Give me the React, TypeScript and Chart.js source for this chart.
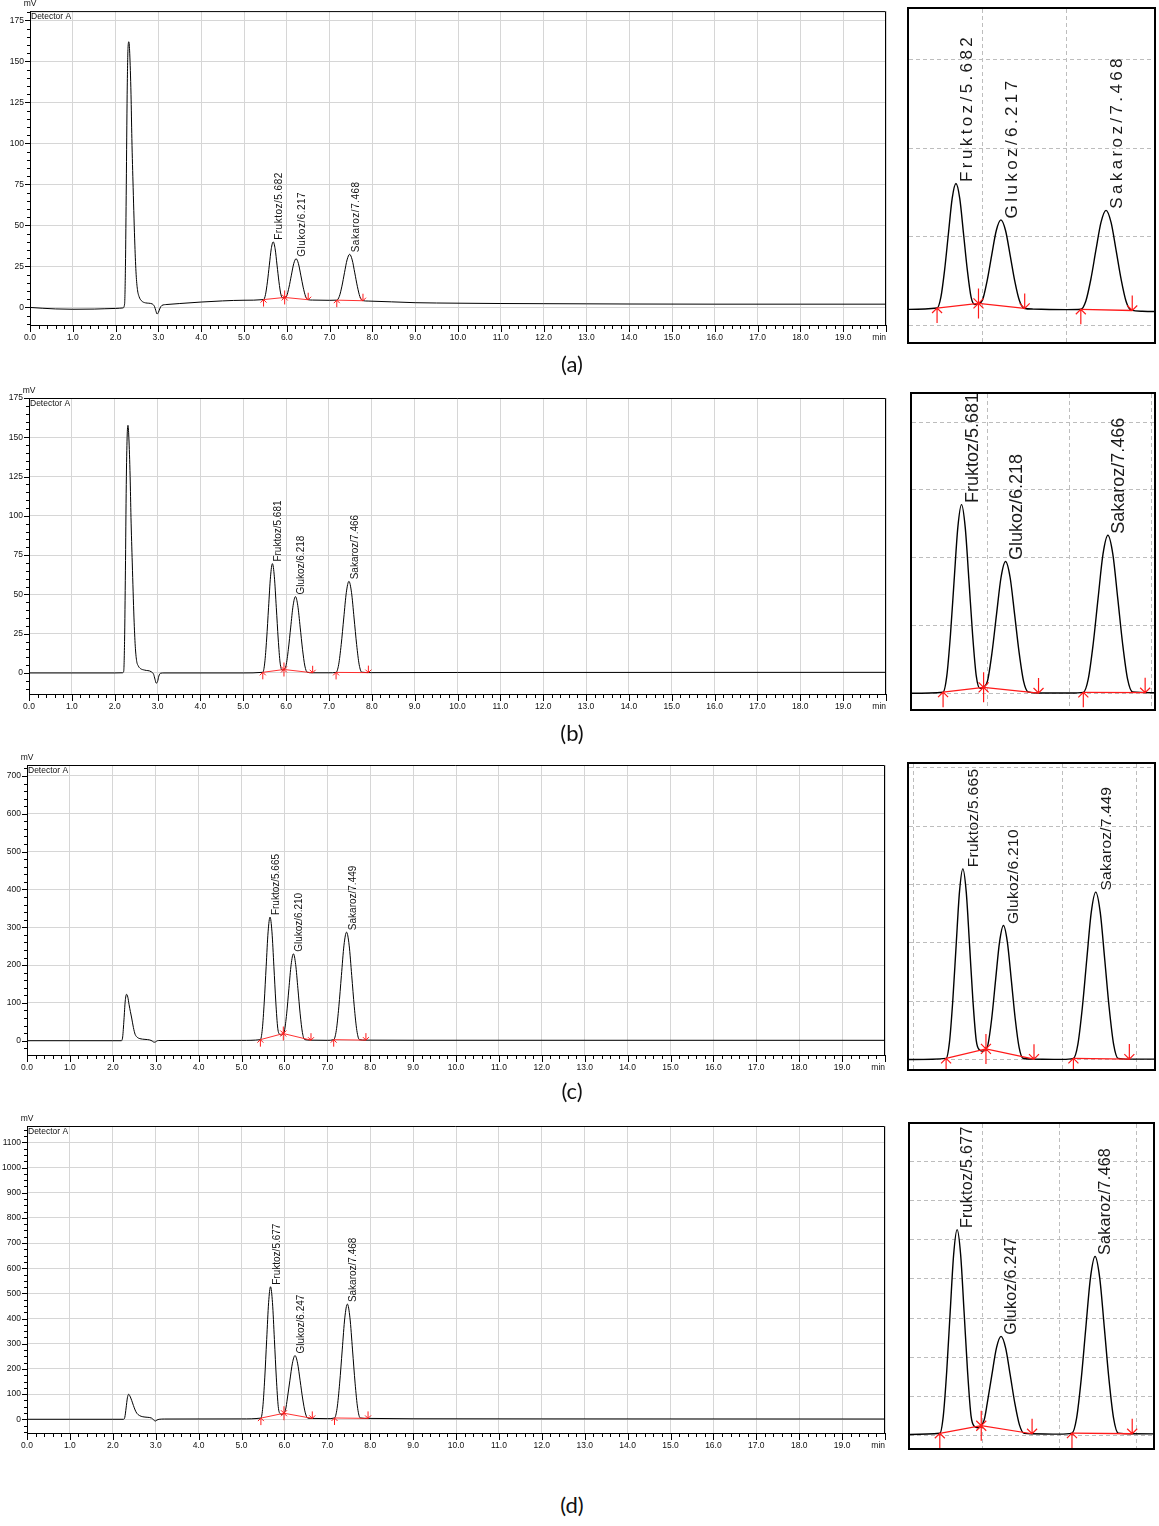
import React, { useEffect, useRef } from "react";
import { Chart, registerables } from "chart.js";

Chart.register(...registerables);

type Pt = [number, number];

// ---------------- DATA ----------------
const peakNames = ["Fruktoz", "Glukoz", "Sakaroz"];

const retentionA = ["5.682", "6.217", "7.468"];
const retentionB = ["5.681", "6.218", "7.466"];
const retentionC = ["5.665", "6.210", "7.449"];
const retentionD = ["5.677", "6.247", "7.468"];

// time (min), signal (mV)
const signalA: Pt[] = [
  [0, 0], [0.3, -0.5], [0.6, -0.9], [1.0, -1.1], [1.5, -1.0], [2.0, -0.6], [2.17, -0.3],
  [2.21, 2], [2.23, 25], [2.25, 75], [2.27, 130], [2.29, 158], [2.31, 162], [2.33, 155],
  [2.36, 130], [2.38, 103], [2.41, 73], [2.45, 38], [2.48, 20], [2.51, 11], [2.55, 6.5],
  [2.6, 4.2], [2.7, 2.8], [2.85, 2.2], [2.91, 0.5], [2.94, -2], [2.97, -4], [3.0, -3],
  [3.04, -0.3], [3.08, 1.2], [3.2, 1.8], [3.5, 2.4], [4.0, 3.3], [4.5, 4.0], [5.0, 4.4],
  [5.457, 4.8], [5.502, 7.8], [5.547, 15.6], [5.592, 25.8], [5.637, 35.8], [5.682, 40],
  [5.727, 35.8], [5.772, 25.8], [5.817, 15.6], [5.862, 7.9], [5.907, 5.8], [5.95, 6.1],
  [5.997, 7.0], [6.052, 12.4], [6.107, 19.7], [6.162, 26.7], [6.217, 29.7], [6.272, 26.7],
  [6.327, 19.7], [6.382, 12.4], [6.437, 6.9], [6.492, 4.75], [6.6, 4.5], [7.0, 4.35],
  [7.168, 4.45], [7.228, 6.8], [7.288, 13.0], [7.348, 21.2], [7.408, 29.0], [7.468, 32.4],
  [7.528, 29.0], [7.588, 21.1], [7.648, 12.9], [7.708, 6.6], [7.768, 4.2], [7.9, 3.9],
  [9.0, 2.9], [10.0, 2.6], [11, 2.4], [12, 2.3], [13, 2.2], [14, 2.1], [16, 2.0], [18, 2.0], [20, 2.0],
];

const signalB: Pt[] = [
  [0, 0], [1, 0], [2, 0], [2.18, 0.1], [2.21, 1], [2.23, 20], [2.25, 65], [2.27, 120],
  [2.29, 150], [2.31, 157.6], [2.33, 150], [2.36, 125], [2.38, 99], [2.41, 70], [2.45, 35],
  [2.48, 17], [2.51, 8], [2.55, 4.5], [2.6, 2.8], [2.7, 1.8], [2.85, 0.8], [2.91, -1],
  [2.94, -4], [2.97, -6.5], [3.0, -5.5], [3.03, -2], [3.07, -0.2], [3.15, 0], [5.0, 0],
  [5.456, 0.4], [5.501, 6.3], [5.546, 21.6], [5.591, 41.8], [5.636, 61.2], [5.681, 69.6],
  [5.726, 61.2], [5.771, 41.8], [5.816, 21.6], [5.861, 6.3], [5.906, 1.8], [5.95, 2.2],
  [5.998, 4.6], [6.053, 15.1], [6.108, 29.2], [6.163, 42.8], [6.218, 48.6], [6.273, 42.8],
  [6.328, 29.2], [6.383, 15.1], [6.438, 4.4], [6.493, 0.5], [6.6, 0.1], [7.0, 0.1],
  [7.166, 0.35], [7.226, 5.2], [7.286, 18.1], [7.346, 35.0], [7.406, 51.3], [7.466, 58.3],
  [7.526, 51.3], [7.586, 35.0], [7.646, 18.1], [7.706, 5.2], [7.766, 0.5], [8.0, 0.2],
  [10, 0.3], [20, 0.4],
];

const signalC: Pt[] = [
  [0, 0], [1, 0], [2, 0], [2.2, 0], [2.23, 10], [2.26, 55], [2.29, 105], [2.32, 122.7],
  [2.35, 115], [2.38, 95], [2.41, 77], [2.44, 60], [2.48, 35], [2.52, 17], [2.57, 9],
  [2.63, 5.5], [2.75, 3.5], [2.86, 2.0], [2.92, -1], [2.96, -4], [3.0, -3], [3.04, 0],
  [3.1, 0.5], [5.0, 0.8], [5.44, 2.8], [5.485, 30.1], [5.53, 101.8], [5.575, 196.4],
  [5.62, 287.8], [5.665, 326.8], [5.71, 287.8], [5.755, 196.4], [5.8, 101.8], [5.845, 33],
  [5.89, 17], [5.935, 15], [5.975, 19], [6.0, 25], [6.0525, 71], [6.105, 137.4],
  [6.1575, 201.5], [6.21, 229.8], [6.2625, 201.5], [6.315, 137.4], [6.3675, 71], [6.42, 21.6],
  [6.4725, 3], [6.6, 1.5], [7.0, 1.0], [7.149, 2.7], [7.209, 26.7], [7.269, 89.7],
  [7.329, 172.6], [7.389, 252.7], [7.449, 287], [7.509, 252.7], [7.569, 172.6], [7.629, 89.7],
  [7.689, 26.7], [7.749, 2.7], [7.9, 1.5], [9, 1.2], [20, 1.0],
];

const signalD: Pt[] = [
  [0, 0], [1, 0], [2, 0], [2.25, 0], [2.28, 8], [2.31, 45], [2.34, 85], [2.37, 99.4],
  [2.4, 92], [2.44, 75], [2.48, 55], [2.52, 37], [2.56, 24], [2.62, 15], [2.7, 10], [2.8, 8],
  [2.9, 5], [2.95, -2], [2.99, -7], [3.03, -3], [3.08, 0], [3.2, 1], [5.0, 1.5],
  [5.452, 4.7], [5.497, 48.8], [5.542, 164.3], [5.587, 316.5], [5.632, 463.5], [5.677, 526.5],
  [5.722, 463.5], [5.767, 316.5], [5.812, 164.3], [5.857, 50], [5.902, 22], [5.947, 19],
  [5.99, 24], [6.03, 40.5], [6.067, 80.5], [6.127, 153], [6.187, 223], [6.247, 253],
  [6.307, 223], [6.367, 153], [6.427, 80.5], [6.487, 25.5], [6.547, 4.5], [6.65, 3.5],
  [7.0, 2.5], [7.168, 5.2], [7.228, 43.5], [7.288, 143.5], [7.348, 275.5], [7.408, 402.9],
  [7.468, 457.5], [7.528, 402.9], [7.588, 275.5], [7.648, 143.5], [7.708, 43.5], [7.768, 5.2],
  [7.95, 3.5], [9, 2], [12, 1.5], [20, 1],
];

// integration baselines (red)
const baselineA: Pt[][] = [[[5.457, 4.8], [5.95, 6.1], [6.5, 4.7]], [[7.168, 4.45], [7.78, 4.1]]];
const baselineB: Pt[][] = [[[5.456, 0.4], [5.95, 2.2], [6.62, 0.1]], [[7.166, 0.35], [7.92, 0.2]]];
const baselineC: Pt[][] = [[[5.44, 2.8], [5.975, 19], [6.62, 1.4]], [[7.149, 2.7], [7.9, 1.5]]];
const baselineD: Pt[][] = [[[5.452, 4.7], [5.99, 24], [6.65, 3.5]], [[7.168, 5.2], [7.95, 3.5]]];

const markerKinds = [["up", "both", "down"], ["up", "down"]];
const panelLetters = ["(a)", "(b)", "(c)", "(d)"];

// ---------------- LAYOUT ----------------
const FONT = "'Liberation Sans', Arial, Helvetica, sans-serif";

interface Panel { signal: Pt[]; baselines: Pt[][]; rts: string[] }
const panels: Panel[] = [
  { signal: signalA, baselines: baselineA, rts: retentionA },
  { signal: signalB, baselines: baselineB, rts: retentionB },
  { signal: signalC, baselines: baselineC, rts: retentionC },
  { signal: signalD, baselines: baselineD, rts: retentionD },
];

interface MainLayout {
  top: number; height: number; left: number; right: number; plotTop: number; plotBottom: number;
  yMin: number; yMax: number; yMinor: number; yMajor: number; labelSpacing: number;
}
const mainLayouts: MainLayout[] = [
  { top: 0, height: 350, left: 30, right: 886, plotTop: 9, plotBottom: 325, yMin: -10.7, yMax: 180.7, yMinor: 5, yMajor: 25, labelSpacing: 0.5 },
  { top: 385, height: 335, left: 29, right: 886, plotTop: 398, plotBottom: 694, yMin: -13.4, yMax: 175, yMinor: 5, yMajor: 25, labelSpacing: 0 },
  { top: 750, height: 330, left: 27, right: 885, plotTop: 765, plotBottom: 1055, yMin: -37.8, yMax: 729, yMinor: 20, yMajor: 100, labelSpacing: 0 },
  { top: 1110, height: 350, left: 27, right: 885, plotTop: 1126, plotBottom: 1433, yMin: -54.5, yMax: 1165, yMinor: 25, yMajor: 100, labelSpacing: 0 },
];

interface InsetLayout {
  left: number; top: number; width: number; height: number;
  xMin: number; xMax: number; yMin: number; yMax: number; xGrid: number[]; yGrid: number[];
  fontSize: number; spacing: number; dx: number;
}
const insetLayouts: InsetLayout[] = [
  { left: 907, top: 7, width: 249, height: 337, xMin: 5.123, xMax: 8.039, yMin: -4.8, yMax: 89.3, xGrid: [6, 7], yGrid: [0, 25, 50, 75], fontSize: 17, spacing: 3.4, dx: 16 },
  { left: 910, top: 392, width: 246, height: 319, xMin: 5.077, xMax: 8.028, yMin: -5.8, yMax: 110.4, xGrid: [6, 7, 8], yGrid: [0, 25, 50, 75, 100], fontSize: 18, spacing: 0, dx: 16 },
  { left: 907, top: 762, width: 249, height: 309, xMin: 4.942, xMax: 8.231, yMin: -15.4, yMax: 506, xGrid: [5, 7, 8], yGrid: [0, 100, 200, 300, 400, 500], fontSize: 15.5, spacing: 0.3, dx: 15 },
  { left: 908, top: 1122, width: 247, height: 328, xMin: 5.065, xMax: 8.22, yMin: -33, yMax: 797, xGrid: [6, 7, 8], yGrid: [0, 100, 200, 300, 400, 500, 600, 700], fontSize: 16, spacing: 0.3, dx: 15 },
];

const letterCenters = [364, 733, 1091, 1505];

// ---------------- HELPERS ----------------
function isMult(v: number, step: number) {
  const r = v / step;
  return Math.abs(r - Math.round(r)) < 1e-6;
}

function apexOf(signal: Pt[], t: number) {
  let best = signal[0];
  for (const p of signal) if (Math.abs(p[0] - t) < Math.abs(best[0] - t)) best = p;
  return best[1];
}

function drawVText(ctx: any, text: string, x: number, y: number, font: string, ls: number, color: string) {
  ctx.save();
  ctx.translate(x, y);
  ctx.rotate(-Math.PI / 2);
  ctx.font = font;
  ctx.letterSpacing = ls + "px";
  ctx.fillStyle = color;
  ctx.textAlign = "left";
  ctx.textBaseline = "alphabetic";
  ctx.fillText(text, 0, 0);
  ctx.restore();
}

function drawMarkers(ctx: any, xs: any, ys: any, baselines: Pt[][], L: number, h: number, lw: number) {
  ctx.save();
  ctx.strokeStyle = "#ff1a1a";
  ctx.lineWidth = lw;
  ctx.beginPath();
  baselines.forEach((seg, si) => {
    seg.forEach((p, pi) => {
      const kind = markerKinds[si][pi];
      const px = xs.getPixelForValue(p[0]);
      const py = ys.getPixelForValue(p[1]);
      if (kind === "up" || kind === "both") {
        ctx.moveTo(px, py); ctx.lineTo(px, py + L);
        ctx.moveTo(px - h, py + h); ctx.lineTo(px, py); ctx.lineTo(px + h, py + h);
      }
      if (kind === "down" || kind === "both") {
        ctx.moveTo(px, py); ctx.lineTo(px, py - L);
        ctx.moveTo(px - h, py - h); ctx.lineTo(px, py); ctx.lineTo(px + h, py - h);
      }
    });
  });
  ctx.stroke();
  ctx.restore();
}

function buildDatasets(panel: Panel, lw: number): any[] {
  return [
    {
      data: panel.signal.map(([x, y]) => ({ x, y })),
      borderColor: "#000", borderWidth: lw, pointRadius: 0,
      cubicInterpolationMode: "monotone", fill: false, order: 2,
    },
    ...panel.baselines.map((seg) => ({
      data: seg.map(([x, y]) => ({ x, y })),
      borderColor: "#ff1a1a", borderWidth: lw * 0.9, pointRadius: 0, tension: 0, fill: false, order: 1,
    })),
  ];
}

// ---------------- COMPONENTS ----------------
function MainChart({ panel, lay }: { panel: Panel; lay: MainLayout }) {
  const ref = useRef<HTMLCanvasElement>(null);
  useEffect(() => {
    const W = 900;
    const xAxisH = lay.top + lay.height - lay.plotBottom;
    const gridCol = "#d6d6d6";
    const decor = {
      id: "decorMain",
      afterDraw(chart: any) {
        const { ctx, chartArea: a } = chart;
        const xs = chart.scales.x;
        const ys = chart.scales.y;
        ctx.save();
        ctx.strokeStyle = "#000";
        ctx.lineWidth = 1;
        ctx.beginPath();
        ctx.moveTo(a.left, a.top + 0.5);
        ctx.lineTo(a.right - 0.5, a.top + 0.5);
        ctx.lineTo(a.right - 0.5, a.bottom);
        for (const t of xs.ticks) {
          const px = Math.round(xs.getPixelForValue(t.value)) + 0.5;
          const len = isMult(t.value, 1) ? 7 : 4;
          ctx.moveTo(px, a.bottom);
          ctx.lineTo(px, a.bottom + len);
        }
        for (const t of ys.ticks) {
          const py = Math.round(ys.getPixelForValue(t.value)) + 0.5;
          const len = isMult(t.value, lay.yMajor) ? 5 : 3;
          ctx.moveTo(a.left - len, py);
          ctx.lineTo(a.left, py);
        }
        ctx.stroke();

        ctx.fillStyle = "#111";
        ctx.font = `8.5px ${FONT}`;
        ctx.textBaseline = "middle";
        ctx.textAlign = "center";
        ctx.fillText("mV", a.left, a.top - 7);
        ctx.textAlign = "left";
        ctx.fillText("Detector A", a.left + 1, a.top + 6);
        ctx.textAlign = "right";
        ctx.fillText("min", a.right, a.bottom + 12.5);

        panel.rts.forEach((rt, i) => {
          const t = parseFloat(rt);
          const yv = apexOf(panel.signal, t);
          drawVText(ctx, `${peakNames[i]}/${rt}`, xs.getPixelForValue(t) + 9, ys.getPixelForValue(yv) - 2,
            `10px ${FONT}`, lay.labelSpacing, "#111");
        });
        ctx.restore();
        drawMarkers(ctx, xs, ys, panel.baselines, 7, 3, 1);
      },
    };
    const chart = new Chart(ref.current as HTMLCanvasElement, {
      type: "line",
      data: { datasets: buildDatasets(panel, 1) },
      options: {
        responsive: false,
        animation: false,
        devicePixelRatio: 1,
        layout: { padding: { left: 0, top: lay.plotTop - lay.top, right: W - lay.right, bottom: 0 } },
        plugins: { legend: { display: false }, tooltip: { enabled: false } },
        scales: {
          x: {
            type: "linear", min: 0, max: 20,
            afterFit: (sc: any) => { sc.height = xAxisH; },
            ticks: {
              stepSize: 0.2, autoSkip: false, maxRotation: 0, minRotation: 0, includeBounds: false,
              padding: 8, color: "#111", font: { family: FONT, size: 8.5 },
              callback: (v: any) => {
                const n = Number(v);
                if (!isMult(n, 1) || n >= 20) return "";
                return n.toFixed(1);
              },
            },
            grid: {
              drawTicks: false, lineWidth: 1,
              color: (c: any) => (c.tick && isMult(c.tick.value, 1) ? gridCol : "rgba(0,0,0,0)"),
            },
            border: { color: "#000", width: 1 },
          },
          y: {
            type: "linear", min: lay.yMin, max: lay.yMax,
            afterFit: (sc: any) => { sc.width = lay.left; },
            ticks: {
              stepSize: lay.yMinor, autoSkip: false, includeBounds: false,
              padding: 6, color: "#111", font: { family: FONT, size: 8.5 },
              callback: (v: any) => {
                const n = Number(v);
                return isMult(n, lay.yMajor) && n >= 0 ? String(Math.round(n)) : "";
              },
            },
            grid: {
              drawTicks: false, lineWidth: 1,
              color: (c: any) => (c.tick && isMult(c.tick.value, lay.yMajor) ? gridCol : "rgba(0,0,0,0)"),
            },
            border: { color: "#000", width: 1 },
          },
        },
      } as any,
      plugins: [decor as any],
    });
    return () => chart.destroy();
  }, [panel, lay]);
  return (
    <canvas
      ref={ref}
      width={900}
      height={lay.height}
      style={{ position: "absolute", left: 0, top: lay.top, width: 900, height: lay.height }}
    />
  );
}

function InsetChart({ panel, lay }: { panel: Panel; lay: InsetLayout }) {
  const ref = useRef<HTMLCanvasElement>(null);
  const iw = lay.width - 4;
  const ih = lay.height - 4;
  useEffect(() => {
    const decor = {
      id: "decorInset",
      afterDraw(chart: any) {
        const { ctx } = chart;
        const xs = chart.scales.x;
        const ys = chart.scales.y;
        panel.rts.forEach((rt, i) => {
          const t = parseFloat(rt);
          const yv = apexOf(panel.signal, t);
          drawVText(ctx, `${peakNames[i]}/${rt}`, xs.getPixelForValue(t) + lay.dx, ys.getPixelForValue(yv) - 1.5,
            `${lay.fontSize}px ${FONT}`, lay.spacing, "#1a1a1a");
        });
        drawMarkers(ctx, xs, ys, panel.baselines, 15, 5, 1.2);
      },
    };
    const gridOpts = { drawTicks: false, color: "#bdbdbd", lineWidth: 1 };
    const chart = new Chart(ref.current as HTMLCanvasElement, {
      type: "line",
      data: { datasets: buildDatasets(panel, 1.4) },
      options: {
        responsive: false,
        animation: false,
        devicePixelRatio: 1,
        layout: { padding: 0 },
        plugins: { legend: { display: false }, tooltip: { enabled: false } },
        scales: {
          x: {
            type: "linear", min: lay.xMin, max: lay.xMax,
            afterFit: (sc: any) => { sc.height = 0; },
            afterBuildTicks: (sc: any) => { sc.ticks = lay.xGrid.map((v) => ({ value: v })); },
            ticks: { display: false },
            grid: gridOpts,
            border: { display: false, dash: [4, 3] },
          },
          y: {
            type: "linear", min: lay.yMin, max: lay.yMax,
            afterFit: (sc: any) => { sc.width = 0; },
            afterBuildTicks: (sc: any) => { sc.ticks = lay.yGrid.map((v) => ({ value: v })); },
            ticks: { display: false },
            grid: gridOpts,
            border: { display: false, dash: [4, 3] },
          },
        },
      } as any,
      plugins: [decor as any],
    });
    return () => chart.destroy();
  }, [panel, lay]);
  return (
    <div
      style={{
        position: "absolute", left: lay.left, top: lay.top, width: lay.width, height: lay.height,
        border: "2px solid #000", boxSizing: "border-box", background: "#fff",
      }}
    >
      <canvas ref={ref} width={iw} height={ih} style={{ display: "block", width: iw, height: ih }} />
    </div>
  );
}

export default function App() {
  return (
    <div
      style={{
        position: "absolute", left: 0, top: 0, width: 1159, height: 1526,
        background: "#fff", overflow: "hidden",
      }}
    >
      {panels.map((p, i) => (
        <MainChart key={"m" + i} panel={p} lay={mainLayouts[i]} />
      ))}
      {panels.map((p, i) => (
        <InsetChart key={"i" + i} panel={p} lay={insetLayouts[i]} />
      ))}
      {panelLetters.map((txt, i) => (
        <div
          key={"l" + i}
          style={{
            position: "absolute", left: 522, width: 100, top: letterCenters[i] - 15, height: 30,
            lineHeight: "30px", textAlign: "center", fontSize: 22, color: "#111",
            fontFamily: "Lato, 'Open Sans', 'Liberation Sans', sans-serif",
          }}
        >
          {txt}
        </div>
      ))}
    </div>
  );
}
